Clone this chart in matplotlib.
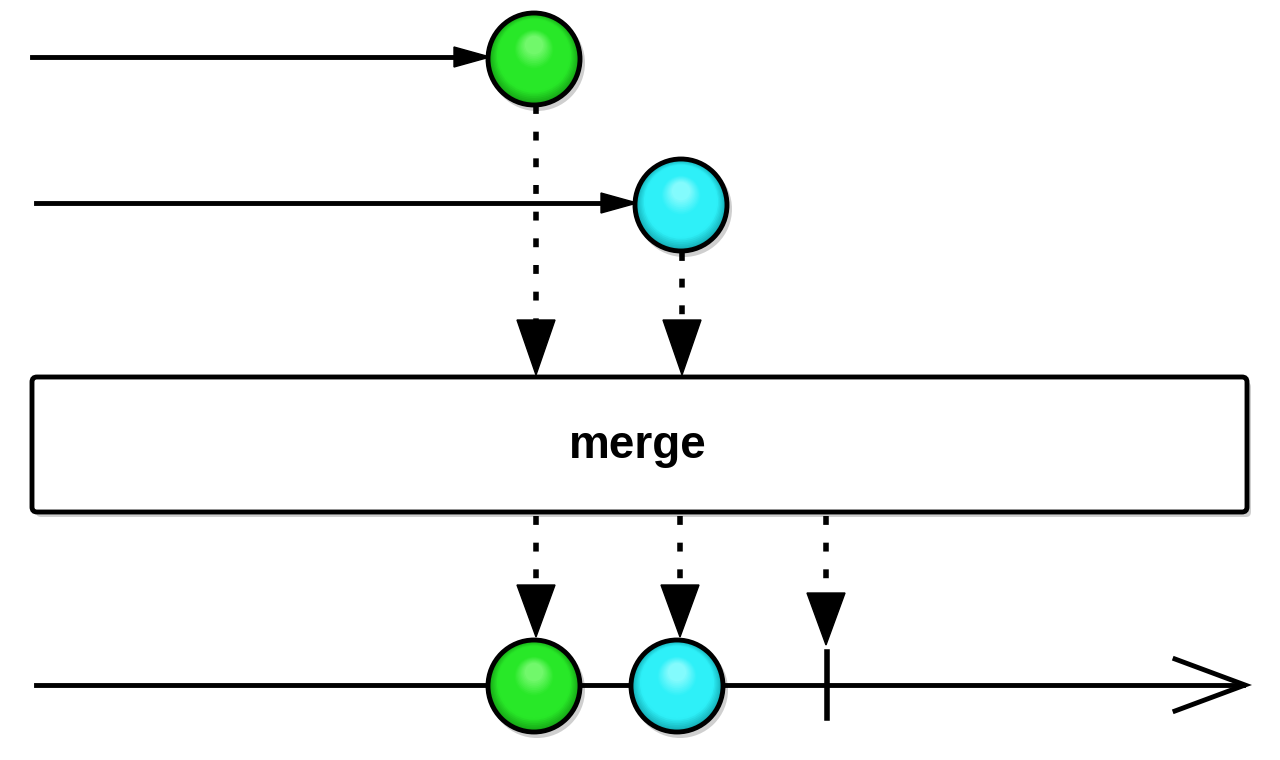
import matplotlib.pyplot as plt
from matplotlib.patches import Circle, FancyBboxPatch, Polygon
from matplotlib.colors import to_rgb
import numpy as np

# marble diagram data (pixel coordinates of the original drawing)
source_y = [57, 203]
source_start = [32, 36]
source_x = [534, 681]
colors_dark = ['#14a014', '#12a8b0']
colors_mid = ['#28e828', '#2ef0f8']
colors_light = ['#90ff88', '#a8ffff']
result_x = [534, 677]
complete_x = 827
out_y = 686
label = 'merge'
R = 46

fig = plt.figure(figsize=(12.8, 7.6), dpi=100)
ax = fig.add_axes([0, 0, 1, 1])
ax.set_xlim(0, 1280)
ax.set_ylim(760, 0)
ax.axis('off')


def ball(x, y, i):
    ax.add_patch(Circle((x + 3, y + 4), R + 2, color='#00000030', lw=0, zorder=3))
    dark, mid, light = (np.array(to_rgb(c)) for c in (colors_dark[i], colors_mid[i], colors_light[i]))
    n = 30
    for k in range(n):
        t = k / (n - 1)
        r = R * (1 - 0.8 * t)
        if t < 0.25:
            c = dark + (mid - dark) * (t / 0.25)
        elif t < 0.7:
            c = mid
        else:
            c = mid + (light - mid) * ((t - 0.7) / 0.3) * 0.7
        ax.add_patch(Circle((x, y - R * 0.3 * t), r, color=c, lw=0, zorder=4))
    ax.add_patch(Circle((x, y), R, fill=False, ec='black', lw=3.5, zorder=5))


def dotted_arrow(x, y0, y1, tip):
    ax.plot([x, x], [y0, y1], color='black', lw=4, ls=(0, (1.6, 3.2)), zorder=2)
    ax.add_patch(Polygon([[x - 19, y1], [x + 19, y1], [x, tip]], color='black', zorder=2))


# source lines
for i in range(2):
    ax.plot([source_start[i], source_x[i] - R - 30], [source_y[i]] * 2, color='black', lw=3.5, zorder=2)
    ax.add_patch(Polygon([[source_x[i] - R - 34, source_y[i] - 10],
                          [source_x[i] - R + 2, source_y[i]],
                          [source_x[i] - R - 34, source_y[i] + 10]], color='black', zorder=2))
    ball(source_x[i], source_y[i] + 2, i)

# dotted arrows into operator
dotted_arrow(536, 105, 320, 375)
dotted_arrow(682, 252, 320, 375)

# operator box
ax.add_patch(FancyBboxPatch((36, 382), 1215, 135, boxstyle='round,pad=0,rounding_size=5',
                            fc='#00000030', ec='none', zorder=1))
ax.add_patch(FancyBboxPatch((32, 377), 1215, 135, boxstyle='round,pad=0,rounding_size=5',
                            fc='white', ec='black', lw=3.5, zorder=2))
ax.text(638, 446, label, ha='center', va='center', fontsize=33, fontweight='bold',
        family='Liberation Sans', zorder=3)

# dotted arrows out of operator
dotted_arrow(536, 516, 585, 637)
dotted_arrow(680, 516, 585, 637)
dotted_arrow(826, 516, 593, 645)

# output line
ax.plot([36, 1243], [685, 685], color='black', lw=3.5, zorder=2)
ax.plot([1175, 1245, 1175], [659, 685, 711], color='black', lw=3.5, zorder=2,
        solid_joinstyle='miter')
ax.plot([complete_x, complete_x], [652, 718], color='black', lw=4, zorder=2)
for i in range(2):
    ball(result_x[i], out_y, i)

fig.savefig('out.png', dpi=100)
